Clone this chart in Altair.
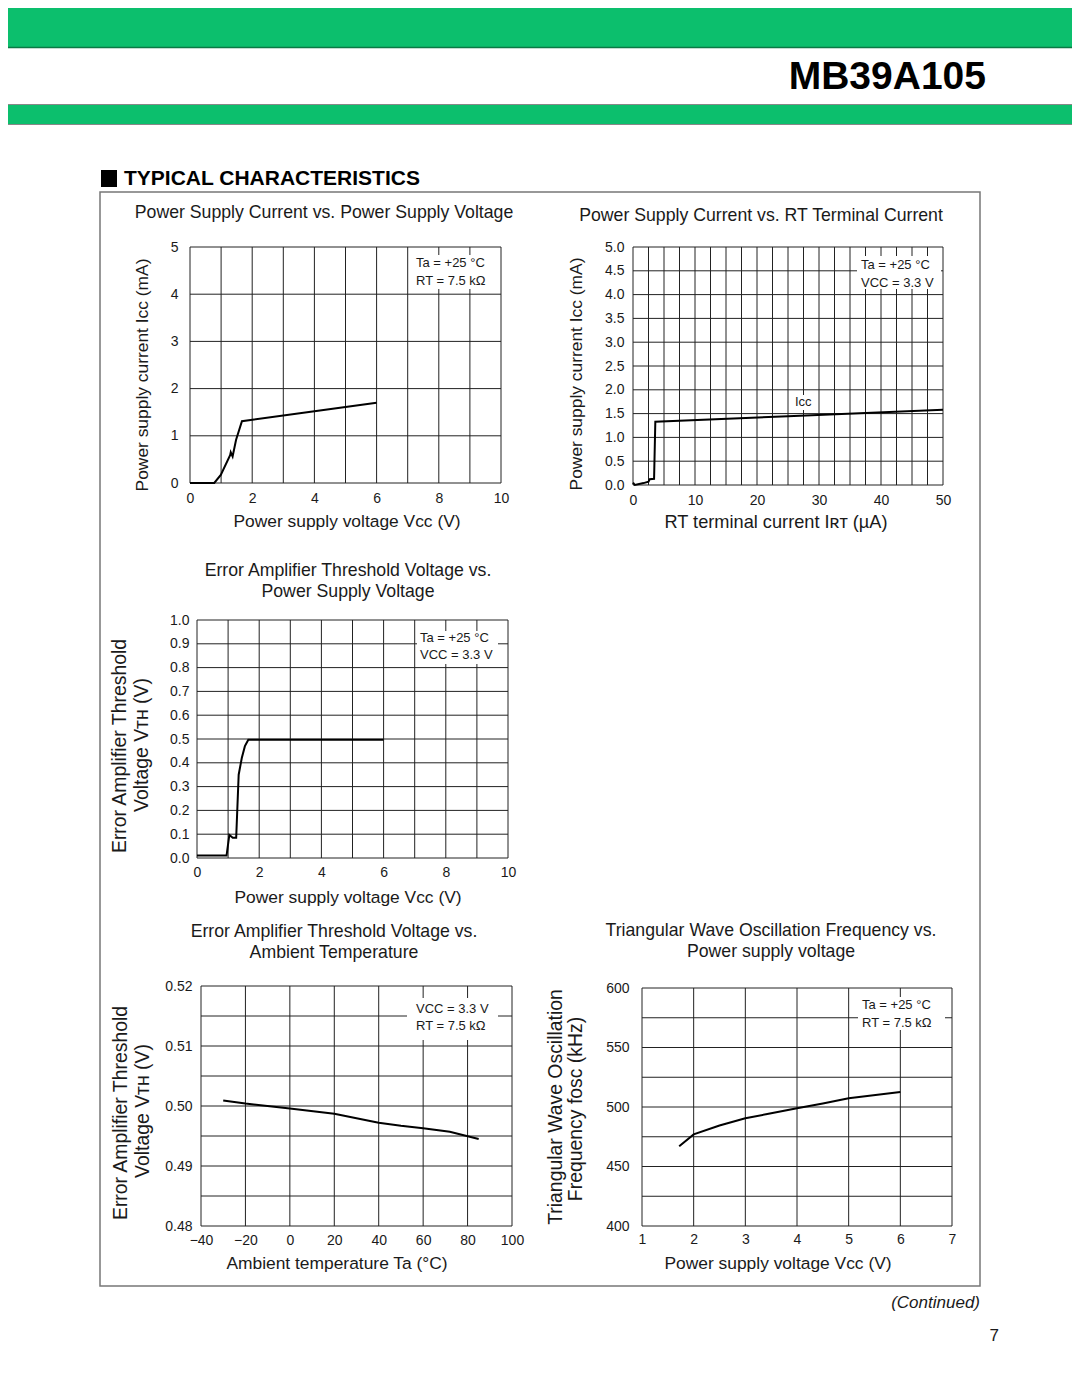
import altair as alt
import pandas as pd

M = 8
W, H = 1064, 1381
FONT = "Liberation Sans"
BOLDN = "Liberation Sans"
INK = "#1a1a1a"
GREEN = "#0cbf6d"

# ---------------- data ----------------
# 1) Power supply current vs power supply voltage
p1_vcc = [0, 0.78, 0.99, 1.29, 1.31, 1.37, 1.48, 1.67, 4.0, 6.0]
p1_icc = [0, 0, 0.17, 0.59, 0.65, 0.56, 0.91, 1.31, 1.52, 1.70]
# 2) Power supply current vs RT terminal current
p2_irt = [0, 0.3, 1.7, 2.5, 2.7, 3.4, 3.6, 25, 50]
p2_icc = [0.05, 0.0, 0.04, 0.07, 0.12, 0.13, 1.33, 1.445, 1.58]
# 3) Error amp threshold vs power supply voltage
p3_vcc = [0, 0.95, 1.04, 1.15, 1.26, 1.34, 1.44, 1.54, 1.65, 6.0]
p3_vth = [0.01, 0.01, 0.097, 0.085, 0.085, 0.35, 0.42, 0.47, 0.497, 0.497]
# 4) Error amp threshold vs ambient temperature
p4_ta = [-30, -20, 0, 20, 40, 50, 60, 72, 85]
p4_vth = [0.5009, 0.5004, 0.4996, 0.4987, 0.4972, 0.4967, 0.4963, 0.4957, 0.4945]
# 5) Triangular wave oscillation frequency vs power supply voltage
p5_vcc = [1.72, 2.0, 2.5, 3.0, 3.5, 4.0, 4.5, 5.0, 6.0]
p5_fosc = [467, 477, 484.5, 490.5, 494.7, 499, 503, 507.3, 512.6]

# tick labels / grid values
p1_xt = [0, 2, 4, 6, 8, 10]; p1_yt = [0, 1, 2, 3, 4, 5]
p1_xg = list(range(0, 11)); p1_yg = [0, 1, 2, 3, 4, 5]
p2_xt = [0, 10, 20, 30, 40, 50]; p2_yt = [i * 0.5 for i in range(11)]
p2_xg = [i * 2.5 for i in range(21)]; p2_yg = [i * 0.5 for i in range(11)]
p3_xt = [0, 2, 4, 6, 8, 10]; p3_yt = [i / 10 for i in range(11)]
p3_xg = list(range(0, 11)); p3_yg = [i / 10 for i in range(11)]
p4_xt = [-40, -20, 0, 20, 40, 60, 80, 100]; p4_yt = [0.48, 0.49, 0.50, 0.51, 0.52]
p4_xg = p4_xt; p4_yg = [0.48 + i * 0.005 for i in range(9)]
p5_xt = [1, 2, 3, 4, 5, 6, 7]; p5_yt = [400, 450, 500, 550, 600]
p5_xg = p5_xt; p5_yg = [400 + i * 25 for i in range(9)]

one = pd.DataFrame({"k": [0]})


def px(v):
    return v - M


def rect(x1, y1, x2, y2, fill="white", stroke=None, sw=1.0):
    kw = dict(fill=fill)
    if stroke:
        kw.update(stroke=stroke, strokeWidth=sw)
    if fill is None:
        kw["fill"] = "transparent"
    return alt.Chart(one).mark_rect(**kw).encode(
        x=alt.value(px(x1)), x2=alt.value(px(x2)),
        y=alt.value(px(y1)), y2=alt.value(px(y2)))


def text(s, x, y, size, angle=0, align="center", weight="normal",
         style="normal", font=FONT, color=INK):
    return alt.Chart(one).mark_text(
        text=s, fontSize=size, angle=angle, align=align, baseline="middle",
        fontWeight=weight, fontStyle=style, font=font, color=color
    ).encode(x=alt.value(px(x)), y=alt.value(px(y)))


def panel(xv, yv, box, xdom, ydom, xg, yg, xt, yt, xfmt, yfmt, xpad, ypad,
          boxes, notes):
    left, top, right, bottom = box
    xs = alt.Scale(domain=xdom, range=[px(left), px(right)], nice=False, zero=False)
    ys = alt.Scale(domain=ydom, range=[px(bottom), px(top)], nice=False, zero=False)
    common = dict(domain=False, ticks=False, tickSize=0, grid=False,
                  labelFontSize=14, labelFont=FONT, labelColor=INK,
                  labelFlush=False, labelOverlap=False, title=None)
    xa = alt.Axis(values=xt, format=xfmt, orient="bottom",
                  offset=px(bottom) - H, labelPadding=xpad, **common)
    ya = alt.Axis(values=yt, format=yfmt, orient="left",
                  offset=-px(left), labelPadding=ypad, **common)
    vg = alt.Chart(pd.DataFrame({"x": xg})).mark_rule(
        color="#222", strokeWidth=1).encode(
        x=alt.X("x:Q", scale=xs, axis=xa),
        y=alt.value(px(top)), y2=alt.value(px(bottom)))
    hg = alt.Chart(pd.DataFrame({"y": yg})).mark_rule(
        color="#222", strokeWidth=1).encode(
        y=alt.Y("y:Q", scale=ys, axis=ya),
        x=alt.value(px(left)), x2=alt.value(px(right)))
    curve = alt.Chart(pd.DataFrame({"x": xv, "y": yv, "i": range(len(xv))})).mark_line(
        color="#000", strokeWidth=2).encode(
        x=alt.X("x:Q", scale=xs, axis=xa),
        y=alt.Y("y:Q", scale=ys, axis=ya),
        order=alt.Order("i:Q"))
    layers = [vg, hg] + [rect(*b) for b in boxes] + [curve]
    layers += [text(s, x, y, 13, align="left") for (s, x, y) in notes]
    return alt.layer(*layers)


pn1 = panel(p1_vcc, p1_icc, (190, 247, 501, 483), [0, 10], [0, 5],
            p1_xg, p1_yg, p1_xt, p1_yt, "d", "d", 8, 12,
            [(409, 255, 497, 289)],
            [("Ta = +25 °C", 416, 263), ("RT = 7.5 kΩ", 416, 281)])
pn2 = panel(p2_irt, p2_icc, (633, 247, 943, 485), [0, 50], [0, 5],
            p2_xg, p2_yg, p2_xt, p2_yt, "d", ".1f", 8, 9,
            [(857, 256, 941, 289), (793, 395, 815, 410)],
            [("Ta = +25 °C", 861, 265), ("VCC = 3.3 V", 861, 283),
             ("Iᴄᴄ", 795, 402)])
pn3 = panel(p3_vcc, p3_vth, (197, 620, 508, 858), [0, 10], [0, 1],
            p3_xg, p3_yg, p3_xt, p3_yt, "d", ".1f", 7, 8,
            [(417, 631, 498, 664)],
            [("Ta = +25 °C", 420, 638), ("VCC = 3.3 V", 420, 655)])
pn4 = panel(p4_ta, p4_vth, (201, 986, 512, 1226), [-40, 100], [0.48, 0.52],
            p4_xg, p4_yg, p4_xt, p4_yt, "d", ".2f", 7, 9,
            [(407, 998, 498, 1040)],
            [("VCC = 3.3 V", 416, 1009), ("RT = 7.5 kΩ", 416, 1026)])
pn5 = panel(p5_vcc, p5_fosc, (642, 988, 952, 1226), [1, 7], [400, 600],
            p5_xg, p5_yg, p5_xt, p5_yt, "d", "d", 6, 13,
            [(858, 997, 945, 1030)],
            [("Ta = +25 °C", 862, 1005), ("RT = 7.5 kΩ", 862, 1023)])

TS = 17.7
decor = [
    rect(0, 8, 1080, 47, fill=GREEN),
    alt.Chart(one).mark_rule(color="#0a7a45", strokeWidth=1.5).encode(
        x=alt.value(0), x2=alt.value(W), y=alt.value(px(47.5))),
    rect(0, 104, 1080, 124, fill=GREEN),
    alt.Chart(one).mark_rule(color="#888", strokeWidth=1).encode(
        x=alt.value(0), x2=alt.value(W), y=alt.value(px(104.5))),
    alt.Chart(one).mark_rule(color="#888", strokeWidth=1).encode(
        x=alt.value(0), x2=alt.value(W), y=alt.value(px(124.5))),
    text("MB39A105", 986, 77, 39, align="right", weight="bold", font=BOLDN, color="#000"),
    rect(101, 170, 117, 187, fill="#000"),
    text("TYPICAL CHARACTERISTICS", 124, 179, 21, align="left", weight="bold",
         font=BOLDN, color="#000"),
    rect(100, 192, 980, 1286, fill=None, stroke="#777", sw=1.5),
    # panel titles
    text("Power Supply Current vs. Power Supply Voltage", 324, 213, TS),
    text("Power Supply Current vs. RT Terminal Current", 761, 216, TS),
    text("Error Amplifier Threshold Voltage vs.", 348, 571, TS),
    text("Power Supply Voltage", 348, 592, TS),
    text("Error Amplifier Threshold Voltage vs.", 334, 932, TS),
    text("Ambient Temperature", 334, 953, TS),
    text("Triangular Wave Oscillation Frequency vs.", 771, 931, TS),
    text("Power supply voltage", 771, 952, TS),
    # x titles
    text("Power supply voltage Vᴄᴄ (V)", 347, 522, 17.4),
    text("RT terminal current Iʀᴛ (µA)", 776, 523, 18.2),
    text("Power supply voltage Vᴄᴄ (V)", 348, 898, 17.4),
    text("Ambient temperature Ta (°C)", 337, 1264, 17.4),
    text("Power supply voltage Vᴄᴄ (V)", 778, 1264, 17.4),
    # y titles
    text("Power supply current Iᴄᴄ (mA)", 143, 375, 17.4, angle=270),
    text("Power supply current Iᴄᴄ (mA)", 577, 374, 17.4, angle=270),
    text("Error Amplifier Threshold", 120, 746, 19.4, angle=270),
    text("Voltage Vᴛʜ (V)", 142, 745, 19.4, angle=270),
    text("Error Amplifier Threshold", 121, 1113, 19.4, angle=270),
    text("Voltage Vᴛʜ (V)", 143, 1111, 19.4, angle=270),
    text("Triangular Wave Oscillation", 556, 1107, 19.4, angle=270),
    text("Frequency fᴏsᴄ (kHz)", 576, 1109, 19.4, angle=270),
    # footer
    text("(Continued)", 980, 1303, 17, align="right", style="italic"),
    text("7", 999, 1336, 17, align="right"),
]

chart = alt.layer(*decor, pn1, pn2, pn3, pn4, pn5).resolve_scale(
    x="independent", y="independent"
).resolve_axis(
    x="independent", y="independent"
).properties(
    width=W, height=H, autosize="none", padding=0, background="white"
).configure_view(stroke=None)

chart.save("out.html", embed_options={"renderer": "svg", "actions": False})
